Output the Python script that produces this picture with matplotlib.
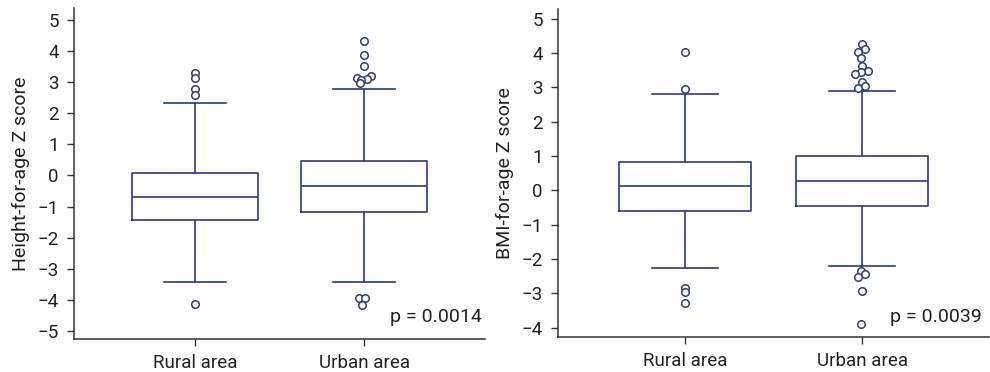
import matplotlib.pyplot as plt
import numpy as np

plt.rcParams['font.family'] = ['Roboto', 'DejaVu Sans']

groups = ["Rural area", "Urban area"]

# height-for-age: (whislo, q1, med, q3, whishi)
haz_rural = [-3.42, -1.43, -0.68, 0.08, 2.33]
haz_urban = [-3.42, -1.16, -0.35, 0.45, 2.78]
haz_rural_out = [3.29, 3.15, 2.77, 2.60, -4.12]
haz_rural_jit = [0, 0, 0, 0, 0]
haz_urban_out = [4.33, 3.87, 3.51, 3.20, 3.12, 3.09, 3.06, 2.96, -3.95, -3.93, -4.17]
haz_urban_jit = [0, 0, 0, 0.04, -0.04, 0.016, -0.018, -0.024, -0.03, 0.006, -0.014]
haz_p = "p = 0.0014"

# bmi-for-age
baz_rural = [-2.26, -0.61, 0.12, 0.83, 2.79]
baz_urban = [-2.20, -0.45, 0.28, 1.01, 2.89]
baz_rural_out = [4.04, 2.94, -2.83, -2.97, -3.29]
baz_rural_jit = [0, 0, 0, 0, 0]
baz_urban_out = [4.26, 4.12, 4.04, 3.86, 3.61, 3.47, 3.43, 3.39, 3.15, 3.03, 2.98,
                 -2.35, -2.44, -2.52, -2.93, -3.89]
baz_urban_jit = [0, 0.015, -0.022, -0.006, 0, 0.035, -0.006, -0.043, 0, 0.018, -0.026,
                 -0.006, 0.015, -0.022, 0, -0.006]
baz_p = "p = 0.0039"

navy = "#2e3a87"
dark = "#333333"


def stats(v, label):
    return dict(whislo=v[0], q1=v[1], med=v[2], q3=v[3], whishi=v[4], fliers=[], label=label)


def panel(ax, rural, urban, r_out, r_jit, u_out, u_jit, ylabel, yticks, ylim, ptext, px, py):
    ls = dict(color=navy, linewidth=1.2)
    ax.bxp([stats(rural, groups[0]), stats(urban, groups[1])], positions=[1, 2],
           widths=0.745, boxprops=ls, whiskerprops=ls, capprops=ls, medianprops=ls,
           capwidths=0.37, showfliers=False)
    for pos, out, jit in [(1, r_out, r_jit), (2, u_out, u_jit)]:
        ax.plot(pos + np.array(jit), out, 'o', mfc='white', mec=navy, mew=1.1, ms=5.4,
                linestyle='none')
    ax.set_xlim(0.285, 2.715)
    ax.set_ylim(*ylim)
    ax.set_yticks(yticks)
    ax.set_ylabel(ylabel, fontsize=14, color="#222222", labelpad=5)
    for s in ['top', 'right']:
        ax.spines[s].set_visible(False)
    for s in ['left', 'bottom']:
        ax.spines[s].set_color(dark)
        ax.spines[s].set_linewidth(1.1)
    ax.tick_params(axis='both', labelsize=13.5, colors=dark, labelcolor="#222222",
                   length=5, width=1.0, pad=6)
    ax.tick_params(axis='y', pad=6)
    ax.text(px, py, ptext, transform=ax.transAxes, ha='right', va='baseline',
            fontsize=14, color="#222222")


fig = plt.figure(figsize=(9.9, 3.72), dpi=100)
ax1 = fig.add_axes([0.0747, 0.0887, 0.4153, 0.8893])
ax2 = fig.add_axes([0.5636, 0.095, 0.4354, 0.881])

panel(ax1, haz_rural, haz_urban, haz_rural_out, haz_rural_jit, haz_urban_out, haz_urban_jit,
      "Height-for-age Z score", range(-5, 6), (-5.26, 5.38), haz_p, 0.992, 0.052)
panel(ax2, baz_rural, baz_urban, baz_rural_out, baz_rural_jit, baz_urban_out, baz_urban_jit,
      "BMI-for-age Z score", range(-4, 6), (-4.26, 5.28), baz_p, 0.984, 0.046)

fig.savefig("out.png", dpi=100)
